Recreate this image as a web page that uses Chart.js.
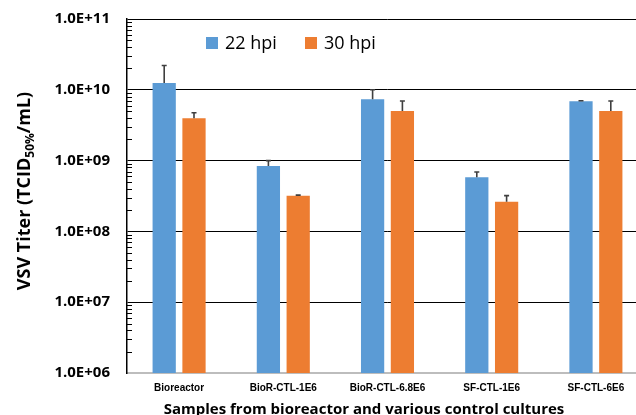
<!DOCTYPE html>
<html>
<head>
<meta charset="utf-8">
<script src="https://cdn.jsdelivr.net/npm/chart.js@4.4.1/dist/chart.umd.min.js"></script>
<style>
    html, body { margin: 0; padding: 0; background: #fff; overflow: hidden; }
    #wrap { width: 648px; height: 415px; position: relative; }
</style>
</head>
<body>
<div id="wrap"><canvas id="titerChart"></canvas></div>
<script>
// Samples and titers (TCID50%/mL)
const samples = ['Bioreactor', 'BioR-CTL-1E6', 'BioR-CTL-6.8E6', 'SF-CTL-1E6', 'SF-CTL-6E6'];
const titer22 = [1.25e10, 8.4e8, 7.35e9, 5.8e8, 6.9e9];
const titer30 = [3.95e9, 3.2e8, 5.0e9, 2.63e8, 5.0e9];
// upper error (standard deviation)
const sd22 = [9.5e9, 1.6e8, 2.65e9, 1.1e8, 1.0e8];
const sd30 = [8.0e8, 0.05e8, 1.95e9, 0.57e8, 1.95e9];
const seriesNames = ['22 hpi', '30 hpi'];
const yMin = 1e6;
const yMax = 1e11;

const BLUE = '#5B9BD5';
const ORANGE = '#ED7D31';

function isDecade(v) {
    const l = Math.log10(v);
    return Math.abs(l - Math.round(l)) < 1e-9;
}

function sciLabel(v) {
    const e = Math.round(Math.log10(v));
    return '1.0E+' + (e < 10 ? '0' + e : e);
}

// 1..9 x 10^n ticks between min and max
function logTicks() {
    const t = [];
    for (let e = 6; e < 11; e++) {
        for (let m = 1; m <= 9; m++) t.push(m * Math.pow(10, e));
    }
    t.push(yMax);
    return t;
}

// error bars, drawn from the bar elements and the y scale
const errorBars = {
    id: 'errorBars',
    afterDatasetsDraw(chart) {
        const ctx = chart.ctx;
        const y = chart.scales.y;
        const sds = [sd22, sd30];
        ctx.save();
        ctx.strokeStyle = '#3f3f3f';
        ctx.lineWidth = 1.6;
        chart.data.datasets.forEach((ds, di) => {
            const meta = chart.getDatasetMeta(di);
            meta.data.forEach((bar, i) => {
                const top = y.getPixelForValue(ds.data[i] + sds[di][i]);
                ctx.beginPath();
                ctx.moveTo(bar.x, bar.y);
                ctx.lineTo(bar.x, top);
                ctx.moveTo(bar.x - 2.5, top);
                ctx.lineTo(bar.x + 2.5, top);
                ctx.stroke();
            });
        });
        ctx.restore();
    }
};

// minor ticks inside the axis, titles and legend
const decorations = {
    id: 'decorations',
    afterDraw(chart) {
        const ctx = chart.ctx;
        const y = chart.scales.y;
        const left = chart.chartArea.left;
        ctx.save();

        ctx.strokeStyle = '#000';
        ctx.lineWidth = 1;
        logTicks().forEach(v => {
            if (isDecade(v)) return;
            const py = Math.round(y.getPixelForValue(v)) + 0.5;
            ctx.beginPath();
            ctx.moveTo(left, py);
            ctx.lineTo(left + 5, py);
            ctx.stroke();
        });

        // y title with subscript
        ctx.translate(30, 191);
        ctx.rotate(-Math.PI / 2);
        ctx.fillStyle = '#000';
        ctx.textBaseline = 'alphabetic';
        ctx.textAlign = 'left';
        const big = 'bold 18px "Open Sans"';
        const small = 'bold 12px "Open Sans"';
        const p1 = 'VSV Titer (TCID', sub = '50%', p2 = '/mL)';
        ctx.font = big;
        const w1 = ctx.measureText(p1).width, w3 = ctx.measureText(p2).width;
        ctx.font = small;
        const w2 = ctx.measureText(sub).width;
        let x = -(w1 + w2 + w3) / 2;
        ctx.font = big;
        ctx.fillText(p1, x, 0);
        x += w1;
        ctx.font = small;
        ctx.fillText(sub, x, 4);
        x += w2;
        ctx.font = big;
        ctx.fillText(p2, x, 0);
        ctx.setTransform(1, 0, 0, 1, 0, 0);

        // x title
        ctx.font = 'bold 15px "Open Sans"';
        ctx.textAlign = 'center';
        ctx.fillText('Samples from bioreactor and various control cultures', 364, 414);

        // legend
        ctx.font = '18px "Open Sans"';
        ctx.textAlign = 'left';
        const items = [[206, BLUE], [305, ORANGE]];
        items.forEach(([lx, col], i) => {
            ctx.fillStyle = col;
            ctx.fillRect(lx, 37, 12, 12);
            ctx.fillStyle = '#000';
            ctx.fillText(seriesNames[i], lx + 19, 48.5);
        });
        ctx.restore();
    }
};

const ctx = document.getElementById('titerChart').getContext('2d');
new Chart(ctx, {
    type: 'bar',
    data: {
        labels: samples,
        datasets: [
            { label: seriesNames[0], data: titer22, backgroundColor: BLUE },
            { label: seriesNames[1], data: titer30, backgroundColor: ORANGE }
        ]
    },
    options: {
        responsive: true,
        maintainAspectRatio: false,
        animation: false,
        categoryPercentage: 0.572,
        barPercentage: 0.78,
        plugins: {
            legend: { display: false },
            tooltip: { enabled: false }
        },
        scales: {
            x: {
                grid: { display: false },
                border: { display: true, color: '#bdbdbd', width: 2 },
                ticks: {
                    color: '#000',
                    padding: 1,
                    maxRotation: 0,
                    font: { family: '"Liberation Sans", Arial, sans-serif', size: 10, weight: 'bold' }
                },
                afterFit(scale) { scale.height = 42; }
            },
            y: {
                type: 'logarithmic',
                min: yMin,
                max: yMax,
                border: { display: true, color: '#000', width: 1.5 },
                grid: {
                    drawTicks: true,
                    tickLength: 7,
                    tickColor: 'rgba(0,0,0,0)',
                    lineWidth: 1,
                    color: c => (isDecade(c.tick.value) && c.tick.value > yMin) ? '#000' : 'rgba(0,0,0,0)'
                },
                afterBuildTicks(scale) {
                    scale.ticks = logTicks().map(v => ({ value: v }));
                },
                ticks: {
                    autoSkip: false,
                    source: 'data',
                    color: '#000',
                    padding: 10,
                    font: { family: '"Open Sans", sans-serif', size: 15, weight: 'bold' },
                    callback: v => isDecade(v) ? sciLabel(v) : ''
                },
                afterFit(scale) { scale.width = 127; }
            }
        }
    },
    plugins: [errorBars, decorations]
});
</script>
</body>
</html>
